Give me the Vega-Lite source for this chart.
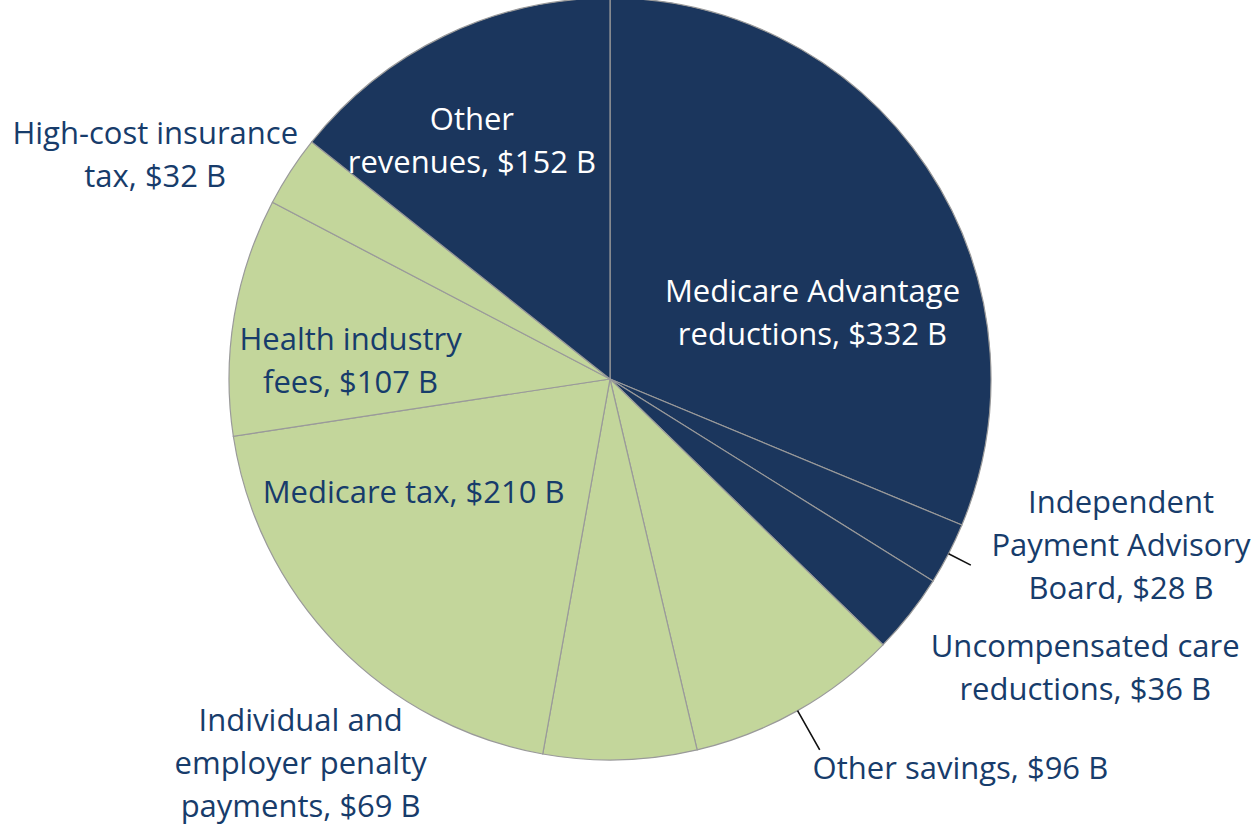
{
  "$schema": "https://vega.github.io/schema/vega-lite/v6.json",
  "width": 1220,
  "height": 758,
  "autosize": {"type": "none"},
  "padding": {"left": 0, "top": 0, "right": 38, "bottom": 68},
  "background": "white",
  "config": {
    "view": {"stroke": null},
    "text": {"font": "Open Sans", "fontSize": 31, "lineHeight": 43, "lineBreak": "\n", "align": "center", "baseline": "middle", "fill": "#173C6B"}
  },
  "data": {
    "values": [
      {"order": 1, "name": "Medicare Advantage reductions", "value": 332, "group": "1", "label": "Medicare Advantage\nreductions, $332 B"},
      {"order": 2, "name": "Independent Payment Advisory Board", "value": 28, "group": "1", "label": "Independent\nPayment Advisory\nBoard, $28 B"},
      {"order": 3, "name": "Uncompensated care reductions", "value": 36, "group": "1", "label": "Uncompensated care\nreductions, $36 B"},
      {"order": 4, "name": "Other savings", "value": 96, "group": "2", "label": "Other savings, $96 B"},
      {"order": 5, "name": "Individual and employer penalty payments", "value": 69, "group": "2", "label": "Individual and\nemployer penalty\npayments, $69 B"},
      {"order": 6, "name": "Medicare tax", "value": 210, "group": "2", "label": "Medicare tax, $210 B"},
      {"order": 7, "name": "Health industry fees", "value": 107, "group": "2", "label": "Health industry\nfees, $107 B"},
      {"order": 8, "name": "High-cost insurance tax", "value": 32, "group": "2", "label": "High-cost insurance\ntax, $32 B"},
      {"order": 9, "name": "Other revenues", "value": 152, "group": "1", "label": "Other\nrevenues, $152 B"}
    ]
  },
  "encoding": {
    "theta": {"field": "value", "type": "quantitative", "stack": true},
    "order": {"field": "order", "type": "quantitative"}
  },
  "layer": [
    {
      "mark": {"type": "arc", "radius": 381, "stroke": "#9A9A9A", "strokeWidth": 1.2},
      "encoding": {
        "color": {"field": "group", "type": "nominal", "scale": {"domain": ["1", "2"], "range": ["#1B365D", "#C3D69B"]}, "legend": null}
      }
    },
    {
      "mark": {"type": "arc", "radius": 406, "radius2": 381, "padAngle": 3, "fillOpacity": 0, "strokeWidth": 1.6},
      "encoding": {
        "stroke": {"condition": {"test": "datum.order === 2", "value": "#111111"}, "value": "transparent"}
      }
    },
    {
      "mark": {"type": "arc", "radius": 426, "radius2": 381, "padAngle": 3, "fillOpacity": 0, "strokeWidth": 1.6},
      "encoding": {
        "stroke": {"condition": {"test": "datum.order === 4", "value": "#111111"}, "value": "transparent"}
      }
    },
    {
      "mark": {"type": "text", "radius": 205, "dx": 32, "dy": 28, "fill": "white"},
      "encoding": {"text": {"condition": {"test": "datum.order === 1", "field": "label"}, "value": ""}}
    },
    {
      "mark": {"type": "text", "radius": 530, "dx": 40, "dy": -118},
      "encoding": {"text": {"condition": {"test": "datum.order === 2", "field": "label"}, "value": ""}}
    },
    {
      "mark": {"type": "text", "radius": 552, "dx": 41, "dy": -72},
      "encoding": {"text": {"condition": {"test": "datum.order === 3", "field": "label"}, "value": ""}}
    },
    {
      "mark": {"type": "text", "radius": 440, "dx": -14, "dy": 8, "align": "left"},
      "encoding": {"text": {"condition": {"test": "datum.order === 4", "field": "label"}, "value": ""}}
    },
    {
      "mark": {"type": "text", "radius": 400, "dx": -320, "dy": -57},
      "encoding": {"text": {"condition": {"test": "datum.order === 5", "field": "label"}, "value": ""}}
    },
    {
      "mark": {"type": "text", "radius": 221, "dx": -38, "dy": -39},
      "encoding": {"text": {"condition": {"test": "datum.order === 6", "field": "label"}, "value": ""}}
    },
    {
      "mark": {"type": "text", "radius": 258, "dx": -5, "dy": 5},
      "encoding": {"text": {"condition": {"test": "datum.order === 7", "field": "label"}, "value": ""}}
    },
    {
      "mark": {"type": "text", "radius": 502, "dx": -34, "dy": 30},
      "encoding": {"text": {"condition": {"test": "datum.order === 8", "field": "label"}, "value": ""}}
    },
    {
      "mark": {"type": "text", "radius": 274, "dx": -19, "dy": -11, "fill": "white"},
      "encoding": {"text": {"condition": {"test": "datum.order === 9", "field": "label"}, "value": ""}}
    }
  ]
}
